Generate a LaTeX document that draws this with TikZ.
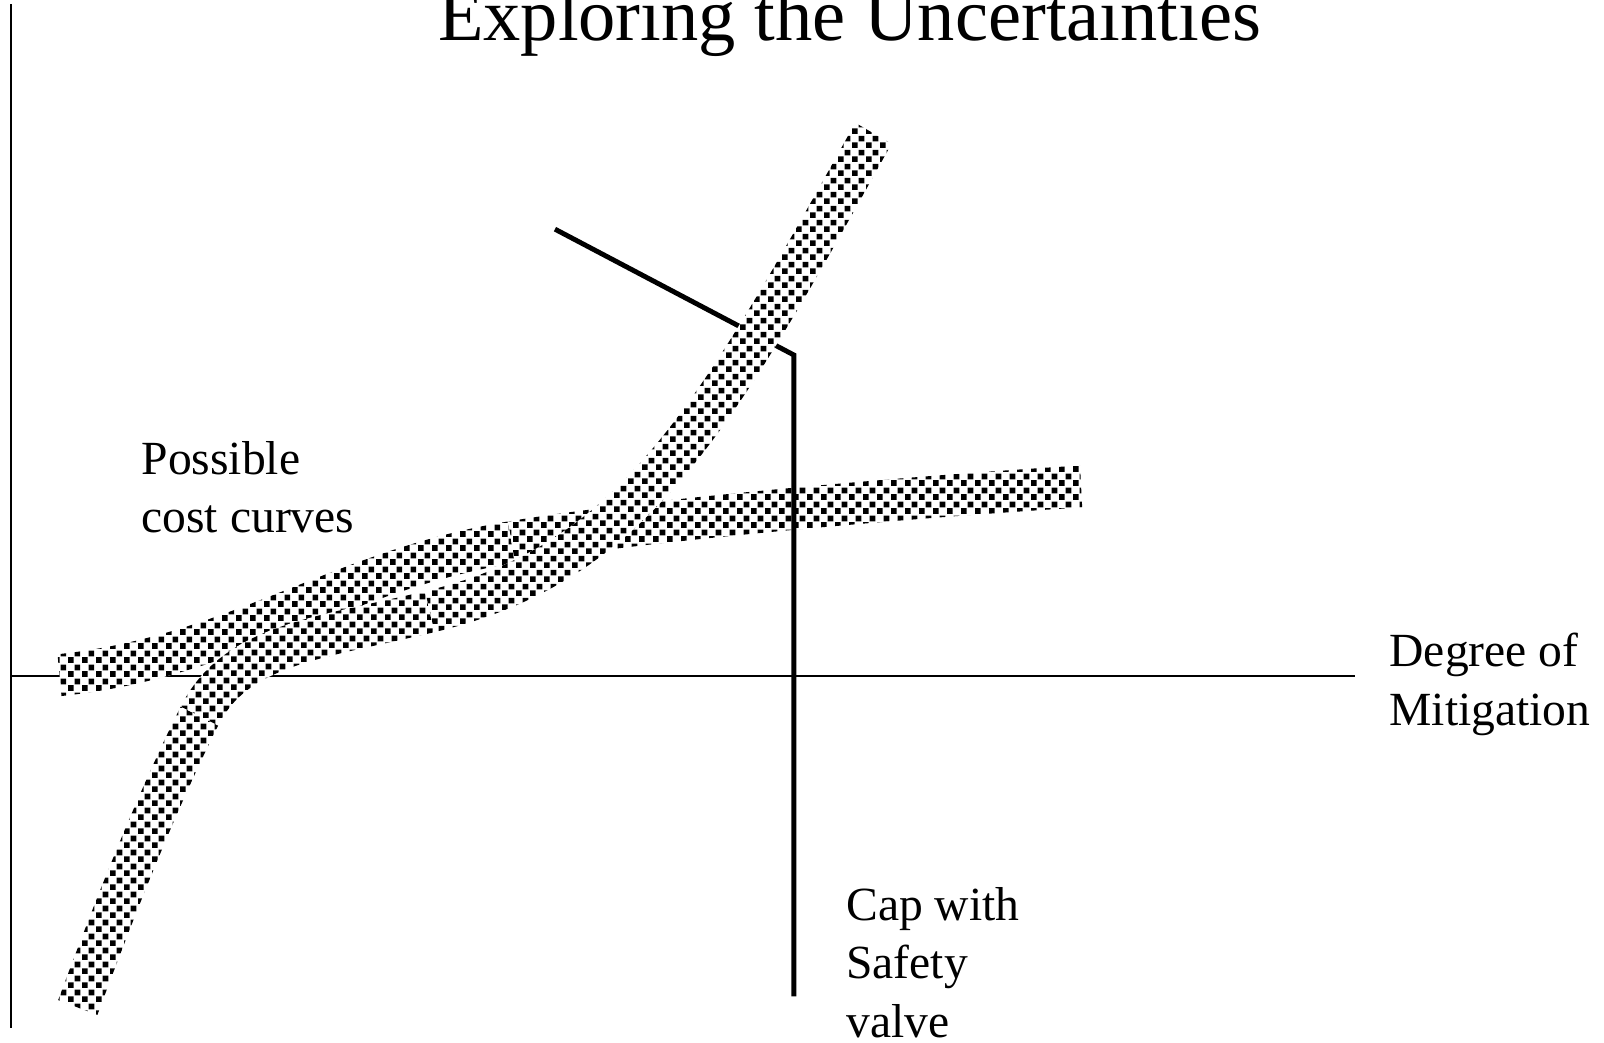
\documentclass[tikz,border=0pt]{standalone}
\usepackage{fontspec}
\setmainfont{Liberation Serif}
\usetikzlibrary{patterns}

\pgfdeclarepatternformonly{checksq}{\pgfpointorigin}{\pgfpoint{6.6pt}{6.6pt}}{\pgfpoint{6.6pt}{6.6pt}}{%
  \pgfpathrectangle{\pgfpointorigin}{\pgfpoint{2.9pt}{2.9pt}}%
  \pgfpathrectangle{\pgfpoint{3.3pt}{3.3pt}}{\pgfpoint{2.9pt}{2.9pt}}%
  \pgfusepath{fill}%
}

\tikzset{
  declare function={
    bz(\s,\pa,\pb,\pc,\pd)=(1-\s)*(1-\s)*(1-\s)*\pa+3*(1-\s)*(1-\s)*\s*\pb+3*(1-\s)*\s*\s*\pc+\s*\s*\s*\pd;
    dbz(\s,\pa,\pb,\pc,\pd)=3*(1-\s)*(1-\s)*(\pb-\pa)+6*(1-\s)*\s*(\pc-\pb)+3*\s*\s*(\pd-\pc);
  },
  band/.style={fill=white, postaction={pattern=checksq}},
  axisline/.style={line width=0.8pt},
  capline/.style={line width=2.4pt},
  lbl/.style={inner sep=0pt, align=left, font=\fontsize{23.25pt}{28.5pt}\selectfont},
}

\newcommand{\bandhw}{0.205}
\newcommand{\bandseg}[8]{%
  \path[band] plot[variable=\t, domain=0:1, samples=60]
    ({bz(\t,#1,#3,#5,#7)-\bandhw*dbz(\t,#2,#4,#6,#8)/veclen(dbz(\t,#1,#3,#5,#7),dbz(\t,#2,#4,#6,#8))},
     {bz(\t,#2,#4,#6,#8)+\bandhw*dbz(\t,#1,#3,#5,#7)/veclen(dbz(\t,#1,#3,#5,#7),dbz(\t,#2,#4,#6,#8))})
    -- plot[variable=\t, domain=1:0, samples=60]
    ({bz(\t,#1,#3,#5,#7)+\bandhw*dbz(\t,#2,#4,#6,#8)/veclen(dbz(\t,#1,#3,#5,#7),dbz(\t,#2,#4,#6,#8))},
     {bz(\t,#2,#4,#6,#8)-\bandhw*dbz(\t,#1,#3,#5,#7)/veclen(dbz(\t,#1,#3,#5,#7),dbz(\t,#2,#4,#6,#8))})
    -- cycle;}

\begin{document}
\begin{tikzpicture}[x=50pt,y=-50pt]
  \useasboundingbox[fill=white] (0,0) rectangle (15.68,10.19);

  \coordinate (ytop) at (0.107,0.04);
  \coordinate (ybot) at (0.107,10.05);
  \coordinate (xleft) at (0.107,6.61);
  \coordinate (xright) at (13.25,6.61);
  \draw[axisline] (ytop) -- (ybot);
  \draw[axisline] (xleft) -- (xright);

  % flatter cost curve
  \bandseg{0.58}{6.60}{2.3}{6.42}{3.3}{5.58}{5.0}{5.30}
  \bandseg{5.0}{5.30}{6.3}{5.08}{9.0}{4.85}{10.57}{4.756}

  \coordinate (capA) at (5.425,2.24);
  \coordinate (capB) at (7.76,3.47);
  \coordinate (capC) at (7.76,9.74);
  \draw[capline] (capA) -- (capB) -- (capC);

  % steep cost curve
  \bandseg{0.76}{9.85}{1.16}{8.77}{1.55}{7.8}{1.95}{7.0}
  \bandseg{1.95}{7.0}{2.3}{6.3}{3.1}{6.244}{4.2}{5.98}
  \bandseg{4.2}{5.98}{6.2}{5.50}{6.95}{4.16}{8.54}{1.30}

  \node[inner sep=0pt, anchor=base, font=\fontsize{36.4pt}{40pt}\selectfont] (title) at (8.305,0.40) {Exploring the Uncertainties};
  \node[lbl, anchor=base west] (costlbl) at (1.38,5.21) {Possible\\cost curves};
  \node[lbl, anchor=base west] (mitlbl) at (13.58,7.09) {Degree of\\Mitigation};
  \node[lbl, anchor=base west] (caplbl) at (8.27,10.14) {Cap with\\Safety\\valve};
\end{tikzpicture}
\end{document}
